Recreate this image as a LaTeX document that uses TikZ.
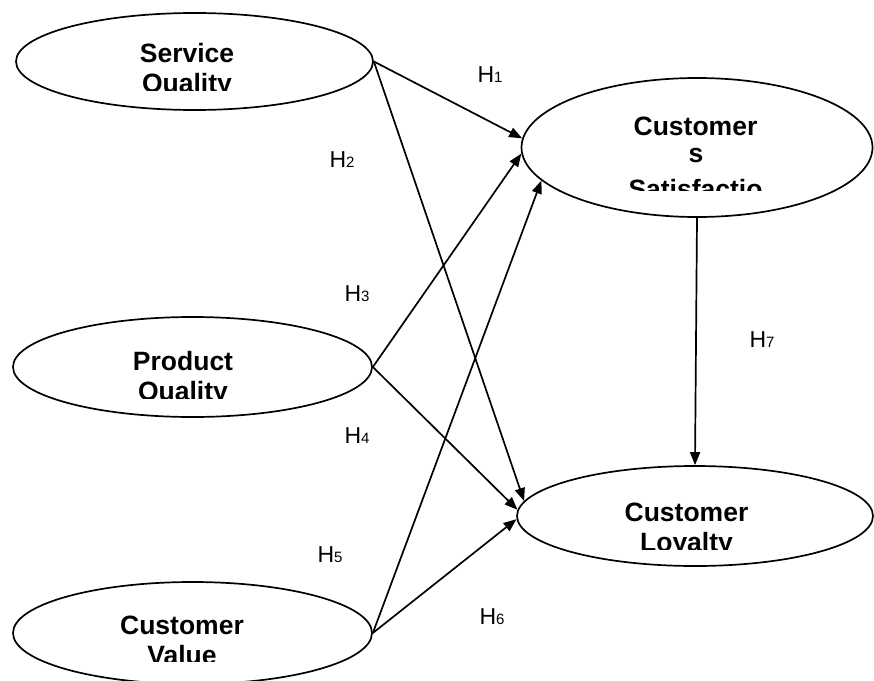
\documentclass[tikz,border=0pt]{standalone}
\usepackage{fontspec}
\setmainfont{Liberation Sans}
\usetikzlibrary{shapes.geometric,arrows.meta}

\tikzset{
  var/.style={draw,ellipse,line width=1.7pt,inner sep=0pt},
  vartext/.style={font=\fontsize{26.5}{30}\selectfont\bfseries,anchor=base,inner sep=0pt},
  hyp/.style={font=\fontsize{23}{23}\selectfont,inner sep=0pt},
  link/.style={line width=1.7pt,-{Triangle[length=13pt,width=10pt]}}
}
\newcommand{\hlabel}[1]{H{\fontsize{15}{15}\selectfont #1}}

\begin{document}
\begin{tikzpicture}[x=1pt,y=-1pt]
	\useasboundingbox (0,0) rectangle (874,680);

	%CONSTRUCTS
	\node[var,minimum width=357pt,minimum height=97pt] (sq) at (194.5,61.5) {};
	\node[var,minimum width=351pt,minimum height=139pt] (cs) at (697,147.5) {};
	\node[var,minimum width=359pt,minimum height=100pt] (pq) at (192.5,367) {};
	\node[var,minimum width=356pt,minimum height=100pt] (cl) at (695,516) {};
	\node[var,minimum width=359pt,minimum height=102pt] (cv) at (192.5,633) {};

	%texts, last line cut off at the bottom
	\begin{scope}
		\clip (0,0) rectangle (874,90);
		\node[vartext] (sqa) at (187,62) {Service};
		\node[vartext] (sqb) at (187,92) {Quality};
	\end{scope}
	\begin{scope}
		\clip (0,0) rectangle (874,190);
		\node[vartext] (csa) at (695.5,135) {Customer};
		\node[vartext] (csb) at (696,162) {s};
		\node[vartext] (csc) at (695.5,198) {Satisfactio};
	\end{scope}
	\begin{scope}
		\clip (0,300) rectangle (874,398);
		\node[vartext] (pqa) at (183,370) {Product};
		\node[vartext] (pqb) at (183,400) {Quality};
	\end{scope}
	\begin{scope}
		\clip (0,450) rectangle (874,549);
		\node[vartext] (cla) at (686.5,521) {Customer};
		\node[vartext] (clb) at (686.5,551) {Loyalty};
	\end{scope}
	\begin{scope}
		\clip (0,590) rectangle (874,661);
		\node[vartext] (cva) at (182,634) {Customer};
		\node[vartext] (cvb) at (182,664) {Value};
	\end{scope}

	%PATHS
	\draw[link] (sq.east) -- (cs.177);
	\draw[link] (sq.east) -- (cl.175);
	\draw[link] (pq.east) -- (cs.182.5);
	\draw[link] (pq.east) -- (cl.178);
	\draw[link] (cv.east) -- (cs.192.4);
	\draw[link] (cv.east) -- (cl.181.3);
	\draw[link] (cs.south) -- (cl.north);

	%HYPOTHESES
	\node[hyp] (h1) at (490,75) {\hlabel{1}};
	\node[hyp] (h2) at (342,160) {\hlabel{2}};
	\node[hyp] (h3) at (357,294) {\hlabel{3}};
	\node[hyp] (h4) at (357,436) {\hlabel{4}};
	\node[hyp] (h5) at (330,555) {\hlabel{5}};
	\node[hyp] (h6) at (492,617) {\hlabel{6}};
	\node[hyp] (h7) at (762,340) {\hlabel{7}};
\end{tikzpicture}
\end{document}
